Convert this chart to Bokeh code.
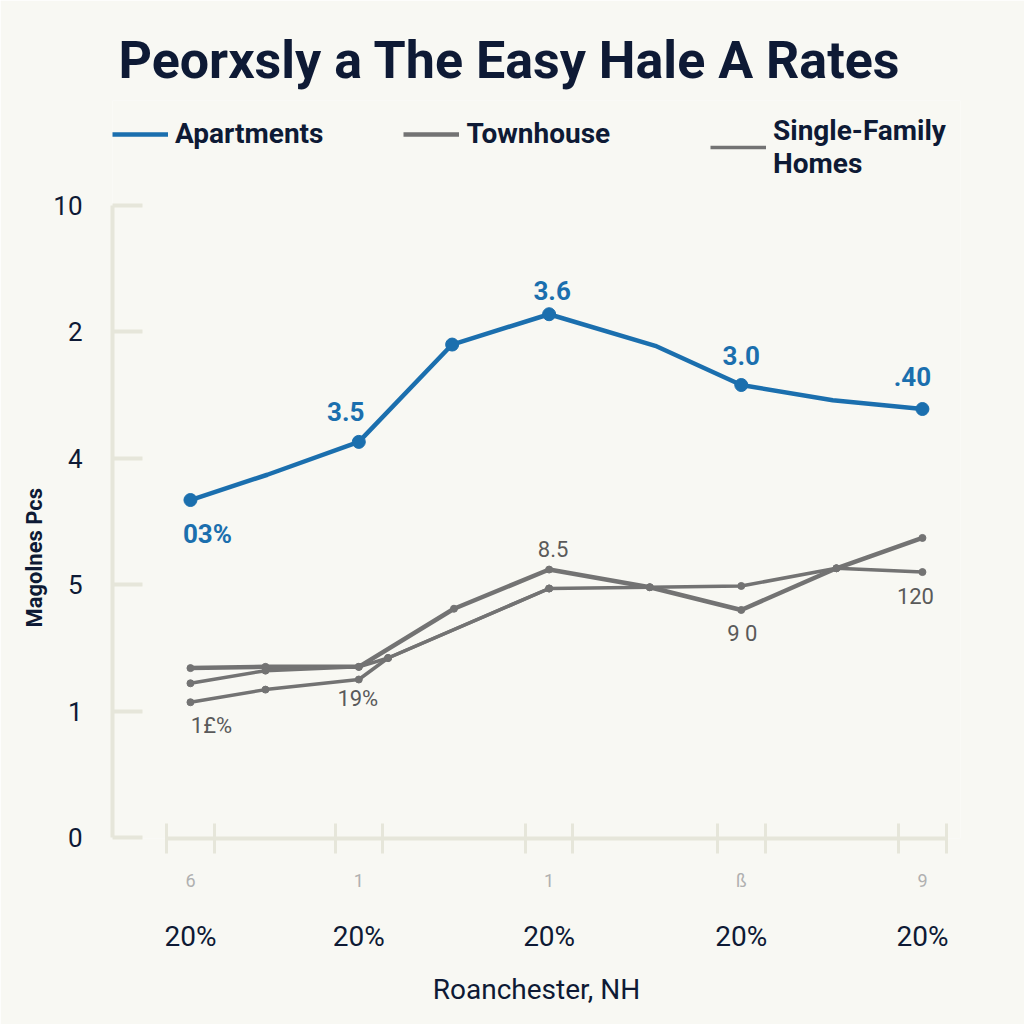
from bokeh.plotting import figure
from bokeh.models import (Range1d, FixedTicker, LinearAxis, Legend, LegendItem,
                          ColumnDataSource, LabelSet, Title)
from bokeh.embed import file_html
from bokeh.resources import INLINE
from bokeh.core.properties import value

# ---------------- data ----------------
title_text = "Peorxsly a The Easy Hale A Rates"
series_names = ["Apartments", "Townhouse", "Single-Family\nHomes"]
x_title = "Roanchester, NH"
y_title = "Magolnes Pcs"

apt_x = [0, 0.42, 0.92, 1.43, 1.96, 2.54, 3.01, 3.51, 4.0]
apt_y = [2.67, 2.87, 3.13, 3.90, 4.14, 3.89, 3.58, 3.46, 3.39]
apt_marker = [True, False, True, True, True, False, True, False, True]

town_x = [0, 0.41, 0.92, 1.44, 1.96, 2.51, 3.01, 3.53, 4.0]
town_y = [1.34, 1.35, 1.35, 1.81, 2.12, 1.98, 1.80, 2.13, 2.37]

single_x = [0, 0.41, 0.92, 1.08, 1.96, 2.51, 3.01, 3.53, 4.0]
single_y = [1.22, 1.32, 1.35, 1.42, 1.97, 1.98, 1.99, 2.13, 2.10]

third_x = [0, 0.41, 0.92, 1.08, 1.96]
third_y = [1.07, 1.17, 1.25, 1.42, 1.97]

apt_labels = ["03%", "3.5", "3.6", "3.0", ".40"]
apt_label_idx = [0, 2, 4, 6, 8]
town_labels = ["8.5", "9 0"]
town_label_idx = [4, 6]
single_labels = ["120"]
single_label_idx = [8]
third_labels = ["1£%", "19%"]
third_label_idx = [0, 2]

x_ticks = [0, 0.92, 1.96, 3.01, 4.0]
x_top_labels = ["6", "1", "1", "ß", "9"]
x_bottom_labels = ["20%", "20%", "20%", "20%", "20%"]
y_ticks = [0, 1, 2, 3, 4, 5]
y_labels = ["0", "1", "5", "4", "2", "10"]

# ---------------- styles ----------------
BG = "#f8f8f3"
BLUE = "#1b6fae"
GRAY = "#737373"
NAVY = "#0e1a35"
AXIS = "#e6e6da"
FONT = "Roboto"

p = figure(width=1024, height=1024, output_backend="svg", toolbar_location=None,
           x_range=Range1d(-0.426, 4.208), y_range=Range1d(-0.008, 5.831),
           min_border_left=112, min_border_right=64, min_border_top=100,
           min_border_bottom=186, title=None,
           background_fill_color=BG, border_fill_color=BG, outline_line_color=None)
p.grid.visible = False

# lines
r_apt = p.line(apt_x, apt_y, line_color=BLUE, line_width=4.5)
p.scatter([x for x, m in zip(apt_x, apt_marker) if m],
          [y for y, m in zip(apt_y, apt_marker) if m],
          size=13, color=BLUE)
r_town = p.line(town_x, town_y, line_color=GRAY, line_width=4.5)
p.scatter(town_x, town_y, size=7, color=GRAY)
r_single = p.line(single_x, single_y, line_color=GRAY, line_width=3.5)
p.scatter(single_x, single_y, size=7, color=GRAY)
r_third = p.line(third_x, third_y, line_color=GRAY, line_width=3.5)
p.scatter(third_x, third_y, size=7, color=GRAY)

# point labels
def add_labels(xs, ys, idx, texts, dx, dy, color, size, style):
    src = ColumnDataSource(dict(x=[xs[i] for i in idx], y=[ys[i] for i in idx],
                                t=texts, dx=dx, dy=dy))
    p.add_layout(LabelSet(x="x", y="y", text="t", x_offset="dx", y_offset="dy",
                          source=src, text_color=color, text_font=value(FONT),
                          text_font_size=size, text_font_style=style,
                          text_align="center", text_baseline="middle"))

add_labels(apt_x, apt_y, apt_label_idx, apt_labels,
           [17, -13, 3, 0, -10], [-34, 30, 24, 30, 33], BLUE, "26px", "bold")
add_labels(town_x, town_y, town_label_idx, town_labels,
           [4, 1], [21, -24], "#5a5a5a", "22px", "normal")
add_labels(single_x, single_y, single_label_idx, single_labels,
           [-7], [-24], "#5a5a5a", "22px", "normal")
add_labels(third_x, third_y, third_label_idx, third_labels,
           [21, -1], [-23, -19], "#5a5a5a", "22px", "normal")

# legends (inside the top band of the frame)
leg_style = dict(orientation="horizontal",
                 label_text_font=FONT, label_text_font_size="28px",
                 label_text_font_style="bold", label_text_color=NAVY,
                 label_text_line_height=1.0,
                 glyph_width=56, glyph_height=30, label_standoff=7, spacing=80,
                 padding=0, margin=0, border_line_color=None,
                 background_fill_alpha=0)
legend_a = Legend(items=[LegendItem(label=series_names[0], renderers=[r_apt]),
                         LegendItem(label=series_names[1], renderers=[r_town])],
                  location=(0, 688), **leg_style)
legend_b = Legend(items=[LegendItem(label=series_names[2], renderers=[r_single])],
                  location=(598, 658), **leg_style)
p.add_layout(legend_a)
p.add_layout(legend_b)

title = Title(text=title_text, text_font=FONT, text_font_size="52px",
              text_font_style="bold", text_color=NAVY, align="left", offset=6,
              standoff=20)
p.add_layout(title, "above")

# y axis
ya = p.yaxis[0]
ya.ticker = FixedTicker(ticks=y_ticks)
ya.major_label_overrides = {t: l for t, l in zip(y_ticks, y_labels)}
ya.bounds = (0, 5)
ya.axis_line_color = AXIS
ya.axis_line_width = 4
ya.major_tick_line_color = AXIS
ya.major_tick_line_width = 4
ya.major_tick_in = 30
ya.major_tick_out = 0
ya.minor_tick_line_color = None
ya.major_label_standoff = 30
ya.major_label_text_font = FONT
ya.major_label_text_font_size = "26px"
ya.major_label_text_color = NAVY

y_title_obj = Title(text=y_title, text_font=FONT, text_font_size="22px",
                    text_font_style="bold", text_color=NAVY, align="left",
                    offset=211, standoff=8)
p.add_layout(y_title_obj, "left")

# x axis (ticks + light labels)
minor = []
for t in x_ticks:
    minor += [t - 0.13, t + 0.13]
xa = p.xaxis[0]
xa.ticker = FixedTicker(ticks=x_ticks, minor_ticks=minor)
xa.major_label_overrides = {t: l for t, l in zip(x_ticks, x_top_labels)}
xa.bounds = (x_ticks[0] - 0.13, x_ticks[-1] + 0.13)
xa.axis_line_color = AXIS
xa.axis_line_width = 4
xa.major_tick_line_color = None
xa.major_tick_in = 0
xa.major_tick_out = 0
xa.minor_tick_line_color = AXIS
xa.minor_tick_line_width = 3
xa.minor_tick_in = 15
xa.minor_tick_out = 15
xa.major_label_standoff = 16
xa.major_label_text_font = FONT
xa.major_label_text_font_size = "18px"
xa.major_label_text_color = "#b0b0b0"

xb = LinearAxis(ticker=FixedTicker(ticks=x_ticks),
                major_label_overrides={t: l for t, l in zip(x_ticks, x_bottom_labels)},
                axis_line_color=None, major_tick_line_color=None,
                minor_tick_line_color=None, major_tick_out=0, major_tick_in=0,
                major_label_standoff=26, major_label_text_font=FONT,
                major_label_text_font_size="28px", major_label_text_color=NAVY,
                axis_label=x_title, axis_label_text_font=FONT,
                axis_label_text_font_size="28px", axis_label_text_font_style="normal",
                axis_label_text_color=NAVY, axis_label_standoff=17)
p.add_layout(xb, "below")

open("out.html", "w").write(file_html(p, INLINE))
